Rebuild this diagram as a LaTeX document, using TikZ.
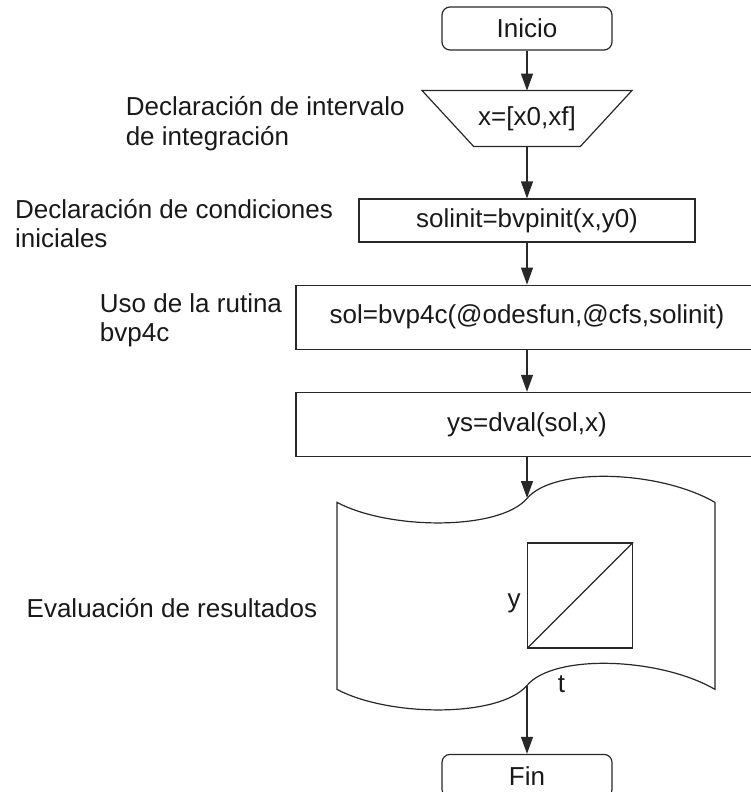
\documentclass[tikz,border=0pt]{standalone}
\usepackage{fontspec}
\setmainfont{Liberation Sans}
\usepackage{tikz}
\usetikzlibrary{arrows.meta,positioning}
\definecolor{fcline}{RGB}{40,40,40}
\definecolor{fctext}{RGB}{25,25,25}
\tikzset{
  fcedge/.style={draw=fcline, line width=.6pt},
  fcterm/.style={fcedge, rounded corners=4pt, minimum width=85pt, minimum height=21.5pt, inner sep=0pt},
  fcbox/.style={fcedge, minimum width=168pt, minimum height=21.5pt, inner sep=0pt},
  fcwide/.style={fcedge, minimum width=231pt, minimum height=32pt, inner sep=0pt},
  fcnote/.style={align=left, inner sep=0pt, text=fctext},
  fcarr/.style={-{Triangle[length=8.5pt,width=6pt]}, line width=.6pt, draw=fcline}
}

\begin{document}
\begin{tikzpicture}[x=0.5pt, y=-0.5pt, font=\fontsize{13}{14.5}\selectfont, text=fctext]
  \useasboundingbox (0,0) rectangle (750,792);
  \node[fcterm] (inicio) at (527,28.5) {Inicio};
  \node[minimum width=104.5pt, minimum height=27.5pt, inner sep=0pt, below=20pt of inicio] (intervalo) {x=[x0,xf]};
  \draw[fcedge] (intervalo.north west) -- (intervalo.north east) -- ([xshift=-25.75pt]intervalo.south east) -- ([xshift=25.75pt]intervalo.south west) -- cycle;
  \node[fcbox, below=26pt of intervalo] (solinit) {solinit=bvpinit(x,y0)};
  \node[fcwide, below=21pt of solinit] (sol) {sol=bvp4c(@odesfun,@cfs,solinit)};
  \node[fcwide, below=21pt of sol] (ys) {ys=dval(sol,x)};
  \node[minimum width=189pt, minimum height=93.5pt, inner sep=0pt, below=20.5pt of ys] (evalres) {};
  % hoja de resultados
  \draw[fcedge, shift={(evalres.center)}] (-190,-89.5) .. controls (-137,-61.5) and (-27,-61.5) .. (0,-93.5)
    .. controls (27,-125.5) and (133,-121.5) .. (188,-89.5) -- (188,97.5)
    .. controls (133,65.5) and (27,61.5) .. (0,93.5)
    .. controls (-27,125.5) and (-137,125.5) .. (-190,97.5) -- cycle;
  \node[fcedge, minimum size=52.5pt, inner sep=0pt, right=0pt of evalres.center, yshift=-1.75pt] (ejes) {};
  \draw[fcedge] (ejes.south west) -- (ejes.north east);
  \node[inner sep=0pt, left=3pt of ejes, yshift=-3.75pt] (ejey) {y};
  \node[inner sep=0pt, below=13.5pt of ejes.south, xshift=-9.25pt] (ejet) {t};
  \node[fcterm, below=34pt of evalres] (fin) {Fin};
  \draw[fcarr] (inicio) -- (intervalo);
  \draw[fcarr] (intervalo) -- (solinit);
  \draw[fcarr] (solinit) -- (sol);
  \draw[fcarr] (sol) -- (ys);
  \draw[fcarr] (ys) -- (evalres);
  \draw[fcarr] (evalres) -- (fin);
  % etiquetas
  \node[fcnote, font=\fontsize{13}{15}\selectfont, left=8.5pt of intervalo, yshift=-2.5pt] (lblint) {Declaración de intervalo\\de integración};
  \node[fcnote, left=12.5pt of solinit, yshift=-1.75pt] (lblcond) {Declaración de condiciones\\iniciales};
  \node[fcnote, left=6.5pt of sol, yshift=-1.5pt] (lblrut) {Uso de la rutina\\bvp4c};
  \node[fcnote, left=10pt of evalres, yshift=-8.25pt] (lbleval) {Evaluación de resultados};
\end{tikzpicture}
\end{document}
